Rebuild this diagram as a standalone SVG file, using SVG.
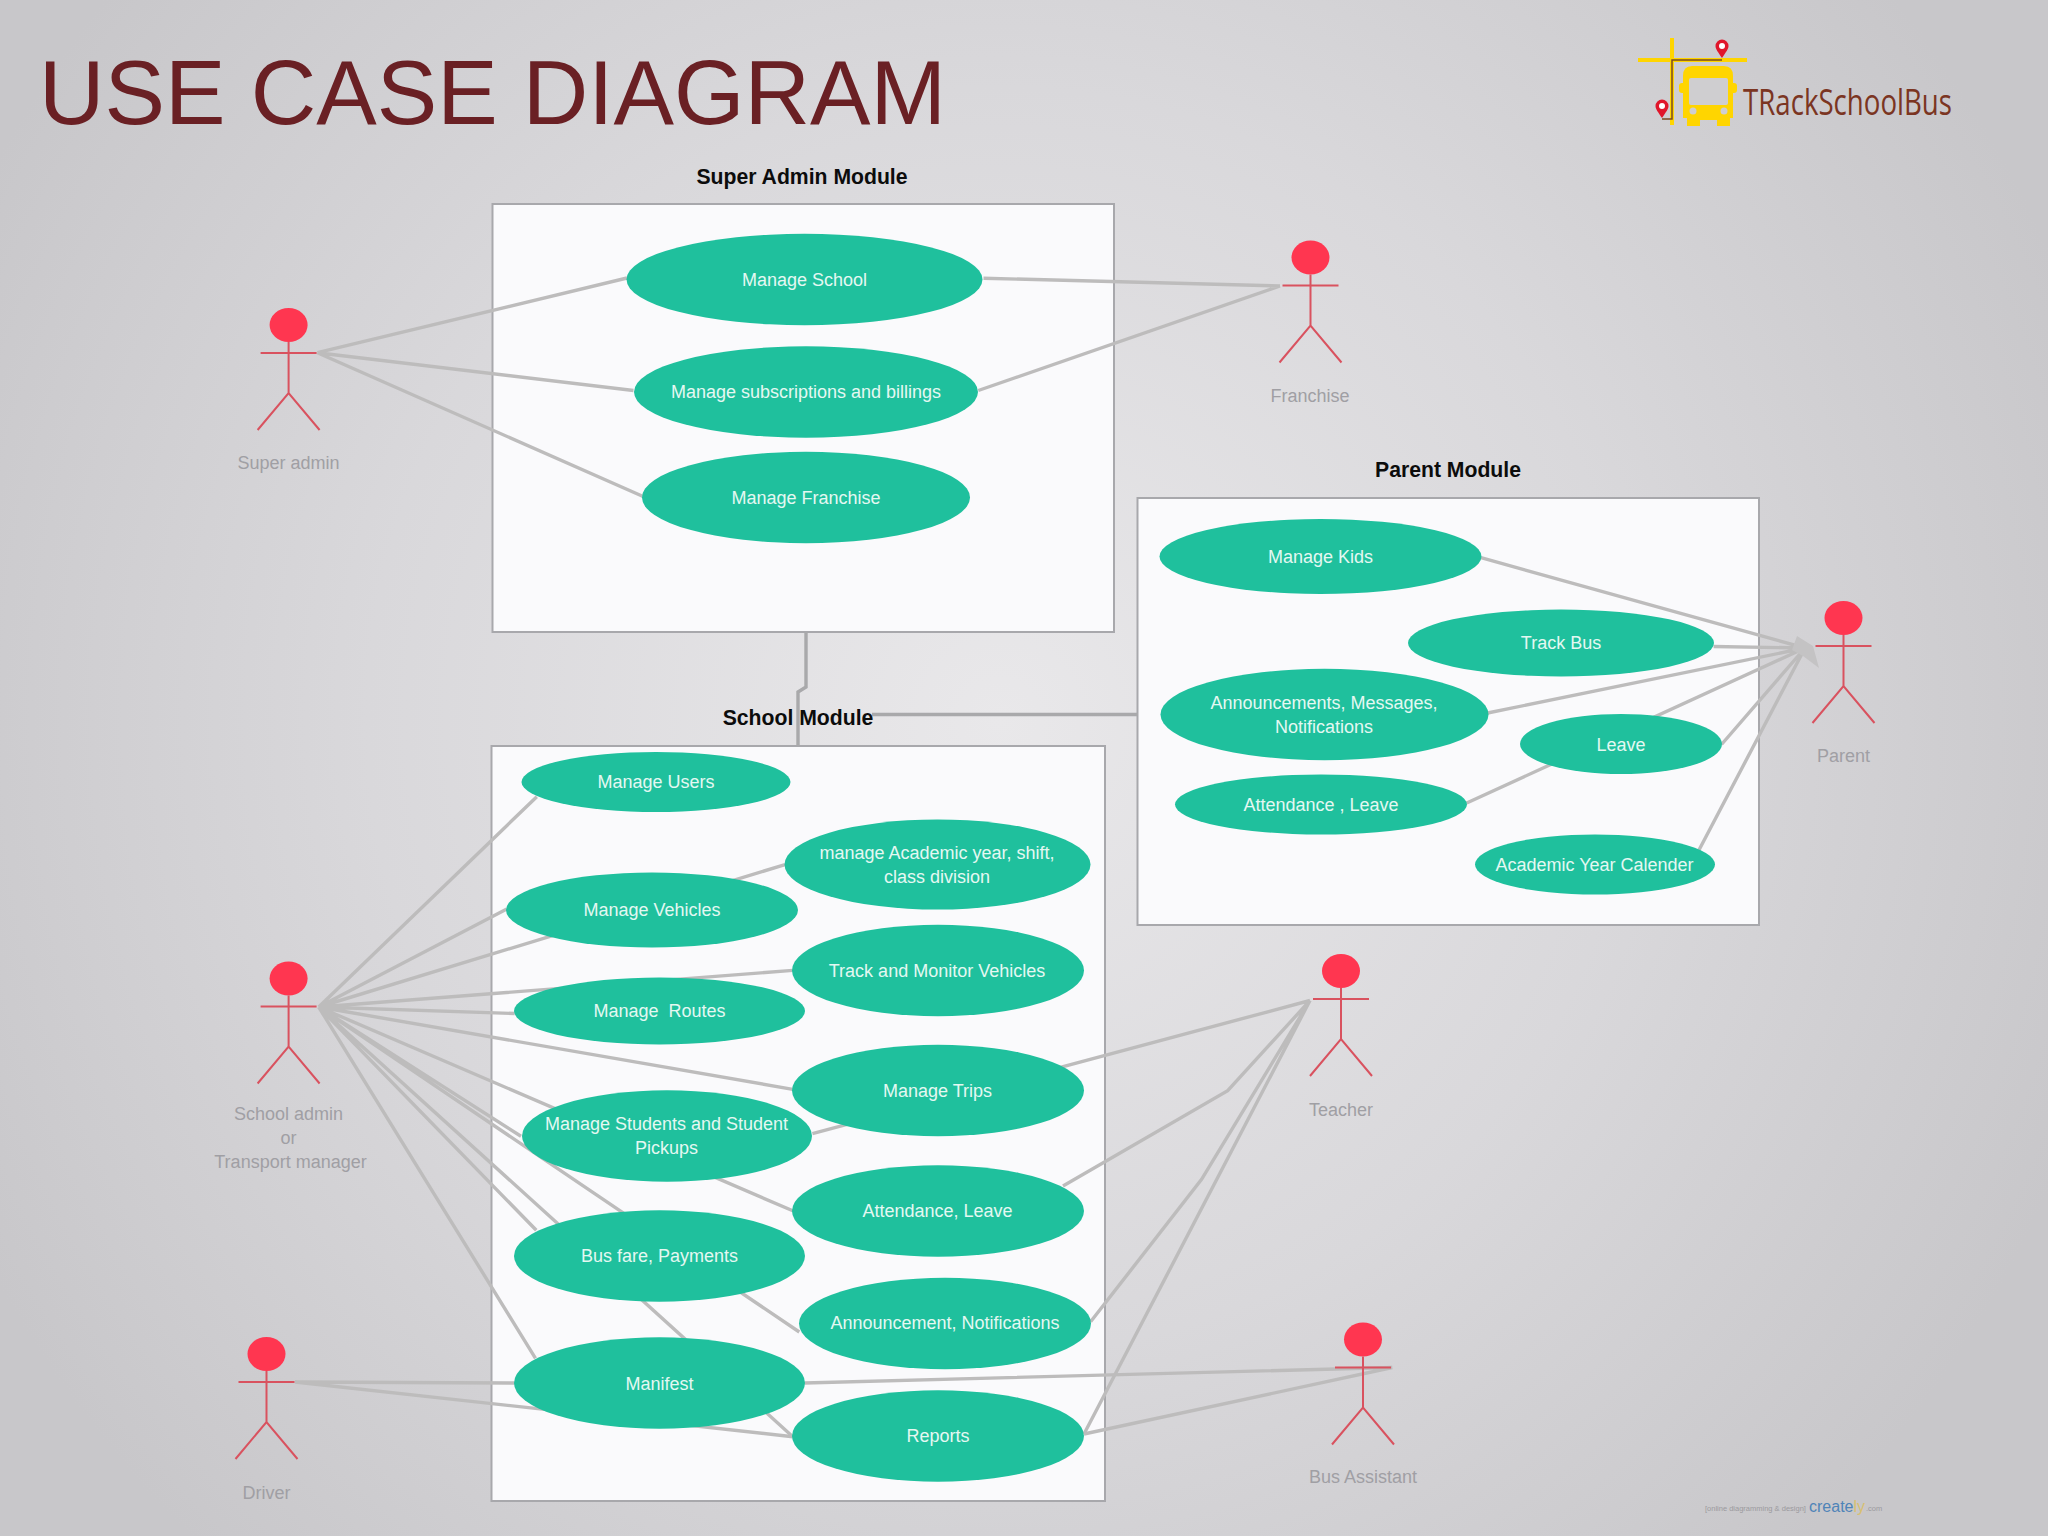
<svg xmlns="http://www.w3.org/2000/svg" width="2048" height="1536" viewBox="0 0 2048 1536">
<style>
text{font-family:"Liberation Sans",Arial,sans-serif;text-anchor:middle}
.box{fill:#fafafc;stroke:#a8a8ac;stroke-width:2}
.uc{fill:#1fc09d}
.ut{fill:#e4f8f2;font-size:18px}
.ac{fill:#a09fa4;font-size:18px}
.mt{fill:#0c0c0c;font-size:21.200px;font-weight:700}
.hd{fill:#ff3650}
.lim{fill:none;stroke:#d9525f;stroke-width:2}
.c{fill:none;stroke:#bdbcbc;stroke-width:3.400}
.m{fill:none;stroke:#a9a9ab;stroke-width:3.400}
</style>
<defs>
<radialGradient id="bg" gradientUnits="userSpaceOnUse" cx="1000" cy="720" r="1150">
<stop offset="0" stop-color="#e9e8ea"/><stop offset="0.55" stop-color="#d9d8db"/><stop offset="1" stop-color="#c8c7ca"/>
</radialGradient>
<g id="actor"><ellipse class="hd" cx="0" cy="0" rx="19" ry="17"/><path class="lim" d="M-28 28H28M0 17V68M-31 105L0 68L31 105"/></g>
<g id="pin"><path d="M0 9C-4 3-6.500 0-6.500-3A6.500 6.500 0 0 1 6.500-3C6.500 0 4 3 0 9Z" fill="#e0162b"/><circle cx="0" cy="-3" r="3" fill="#fff"/></g>
</defs>
<rect width="2048" height="1536" fill="url(#bg)"/>
<text x="39" y="124" style="text-anchor:start;font-size:90.700px" fill="#6a2024">USE CASE DIAGRAM</text>
<g id="logo">
<path d="M1638 60H1747M1672 38V125" stroke="#ffd500" stroke-width="4" fill="none"/>
<path d="M1722 60H1672V119H1662" stroke="#7a4a20" stroke-width="1.500" fill="none"/>
<path d="M1692 66H1724Q1733 66 1733 76V118H1730V126H1717V120H1700V126H1687V118H1683V76Q1683 66 1692 66Z" fill="#ffd500"/>
<rect x="1679" y="83" width="58" height="10" rx="3" fill="#ffd500"/>
<rect x="1689" y="78" width="39" height="27" rx="2" fill="#cfced0"/>
<circle cx="1693" cy="111" r="3.500" fill="#cfced0"/><circle cx="1724" cy="111" r="3.500" fill="#cfced0"/>
<use href="#pin" x="1722" y="49"/><use href="#pin" x="1662" y="109"/>
<text x="1743" y="115" style="text-anchor:start;font-size:36px;font-family:'Open Sans',sans-serif" fill="#7b3522" textLength="209" lengthAdjust="spacingAndGlyphs">TRackSchoolBus</text>
</g>
<g id="module-super"><rect class="box" x="492.500" y="204" width="621.500" height="428"/><text class="mt" x="802" y="184">Super Admin Module</text></g>
<g id="module-parent"><rect class="box" x="1137.500" y="498" width="621.500" height="427"/><text class="mt" x="1448" y="477">Parent Module</text></g>
<g id="module-school"><rect class="box" x="491.500" y="746" width="613.500" height="755"/></g>
<g id="connectors">
<path class="m" d="M806 632V687L798 692V746M872 714.500H1137.500"/>
<path class="c" d="M317.400 352.700L627 278M317.400 352.700L633.500 390.500M317.400 352.700L642.600 496.300"/>
<path class="c" d="M1280 286L983.500 278.200M1280 286L978.300 390.500"/>
<path class="c" d="M1805 648L1481 557.700M1805 648L1713.600 646.500M1805 648L1487.600 713M1805 648L1466.700 803M1805 648L1721.500 744.500M1805 648L1699 850"/>
<polygon points="1797,636 1813,646 1819,668 1803,656 1792,650" fill="#c4c3c4"/>
<path class="c" d="M318.700 1007L536.800 796.700M318.700 1007L506.800 909M318.700 1007L785 864.600M318.700 1007L792.800 970.400M318.700 1007L514.600 1013.500M318.700 1007L792.800 1089.300M318.700 1007L521 1136.300M318.700 1007L792.800 1210.800M318.700 1007L536.300 1230.300M318.700 1007L799.300 1332M318.700 1007L792.800 1436.700M318.700 1007L535.500 1358.300"/>
<path class="c" d="M295 1382L514.600 1383M295 1382L792.800 1436.700"/>
<path class="c" d="M1310 1000.500L812.400 1133.700M1310 1000.500L1227.700 1090.600L1063 1186M1310 1000.500L1201.600 1179.400L1090.600 1321.800M1310 1000.500L1084 1434"/>
<path class="c" d="M1392.300 1367.500L804.500 1383M1392.300 1367.500L1084 1434"/>
</g>
<g id="uc-manage-school"><ellipse class="uc" cx="804.500" cy="279.500" rx="178" ry="45.700"/><text class="ut" x="804.500" y="285.500">Manage School</text></g>
<g id="uc-subscriptions"><ellipse class="uc" cx="806" cy="392" rx="172" ry="45.700"/><text class="ut" x="806" y="398">Manage subscriptions and billings</text></g>
<g id="uc-manage-franchise"><ellipse class="uc" cx="806" cy="497.500" rx="164" ry="45.700"/><text class="ut" x="806" y="503.500">Manage Franchise</text></g>
<g id="uc-manage-kids"><ellipse class="uc" cx="1320.500" cy="556.500" rx="161" ry="37.500"/><text class="ut" x="1320.500" y="562.500">Manage Kids</text></g>
<g id="uc-track-bus"><ellipse class="uc" cx="1561" cy="643" rx="153" ry="33.500"/><text class="ut" x="1561" y="649">Track Bus</text></g>
<g id="uc-announcements"><ellipse class="uc" cx="1324.500" cy="714.500" rx="164" ry="45.700"/><text class="ut" x="1324" y="709">Announcements, Messages,</text><text class="ut" x="1324" y="733">Notifications</text></g>
<g id="uc-leave"><ellipse class="uc" cx="1621" cy="744" rx="101" ry="30"/><text class="ut" x="1621" y="750.500">Leave</text></g>
<g id="uc-attendance-parent"><ellipse class="uc" cx="1321" cy="804.500" rx="146" ry="30"/><text class="ut" x="1321" y="811">Attendance , Leave</text></g>
<g id="uc-calendar"><ellipse class="uc" cx="1595" cy="864.500" rx="120" ry="30"/><text class="ut" x="1594.500" y="871">Academic Year Calender</text></g>
<g id="uc-manage-users"><ellipse class="uc" cx="656" cy="782" rx="134.500" ry="30"/><text class="ut" x="656" y="788">Manage Users</text></g>
<g id="uc-academic"><ellipse class="uc" cx="937.500" cy="864.500" rx="153" ry="45"/><text class="ut" x="937" y="859">manage Academic year, shift,</text><text class="ut" x="937" y="883">class division</text></g>
<g id="uc-vehicles"><ellipse class="uc" cx="652" cy="910" rx="146" ry="37.500"/><text class="ut" x="652" y="916">Manage Vehicles</text></g>
<g id="uc-monitor"><ellipse class="uc" cx="938" cy="970.500" rx="146" ry="45.700"/><text class="ut" x="937" y="977">Track and Monitor Vehicles</text></g>
<g id="uc-routes"><ellipse class="uc" cx="659.500" cy="1011" rx="145.500" ry="33.500"/><text class="ut" x="659.500" y="1017" xml:space="preserve">Manage  Routes</text></g>
<g id="uc-trips"><ellipse class="uc" cx="938" cy="1090.500" rx="146" ry="45.700"/><text class="ut" x="937.500" y="1097">Manage Trips</text></g>
<g id="uc-students"><ellipse class="uc" cx="667" cy="1136" rx="145" ry="45.700"/><text class="ut" x="666.500" y="1130">Manage Students and Student</text><text class="ut" x="666.500" y="1154">Pickups</text></g>
<g id="uc-attendance"><ellipse class="uc" cx="938" cy="1211" rx="146" ry="45.700"/><text class="ut" x="937.500" y="1217">Attendance, Leave</text></g>
<g id="uc-fare"><ellipse class="uc" cx="659.500" cy="1256" rx="145.500" ry="45.700"/><text class="ut" x="659.500" y="1262">Bus fare, Payments</text></g>
<g id="uc-announcement"><ellipse class="uc" cx="945" cy="1323.500" rx="146" ry="45.700"/><text class="ut" x="945" y="1329">Announcement, Notifications</text></g>
<g id="uc-manifest"><ellipse class="uc" cx="659.500" cy="1383" rx="145.500" ry="45.700"/><text class="ut" x="659.500" y="1390">Manifest</text></g>
<g id="uc-reports"><ellipse class="uc" cx="938" cy="1436" rx="146" ry="45.700"/><text class="ut" x="938" y="1442">Reports</text></g>
<text class="mt" x="798" y="725">School Module</text>
<g id="actor-super-admin"><use href="#actor" x="288.600" y="325"/><text class="ac" x="288.600" y="469">Super admin</text></g>
<g id="actor-franchise"><use href="#actor" x="1310.500" y="257.500"/><text class="ac" x="1310" y="402">Franchise</text></g>
<g id="actor-parent"><use href="#actor" x="1843.500" y="618"/><text class="ac" x="1843.500" y="762">Parent</text></g>
<g id="actor-school-admin"><use href="#actor" x="288.600" y="978.500"/><text class="ac" x="288.600" y="1120">School admin</text><text class="ac" x="288.600" y="1144">or</text><text class="ac" x="290.500" y="1168">Transport manager</text></g>
<g id="actor-teacher"><use href="#actor" x="1341" y="971"/><text class="ac" x="1341" y="1116">Teacher</text></g>
<g id="actor-driver"><use href="#actor" x="266.500" y="1354"/><text class="ac" x="266.500" y="1499">Driver</text></g>
<g id="actor-bus-assistant"><use href="#actor" x="1363" y="1339.500"/><text class="ac" x="1363" y="1483">Bus Assistant</text></g>
<g id="watermark">
<text x="1705" y="1511" style="text-anchor:start;font-size:7.500px" fill="#9b9a9e">[online diagramming &amp; design]</text>
<text x="1809" y="1512" style="text-anchor:start;font-size:16px" fill="#4f84b8">create<tspan fill="#d8c070">ly</tspan></text>
<text x="1866" y="1511" style="text-anchor:start;font-size:7.500px" fill="#9b9a9e">.com</text>
</g>
</svg>
